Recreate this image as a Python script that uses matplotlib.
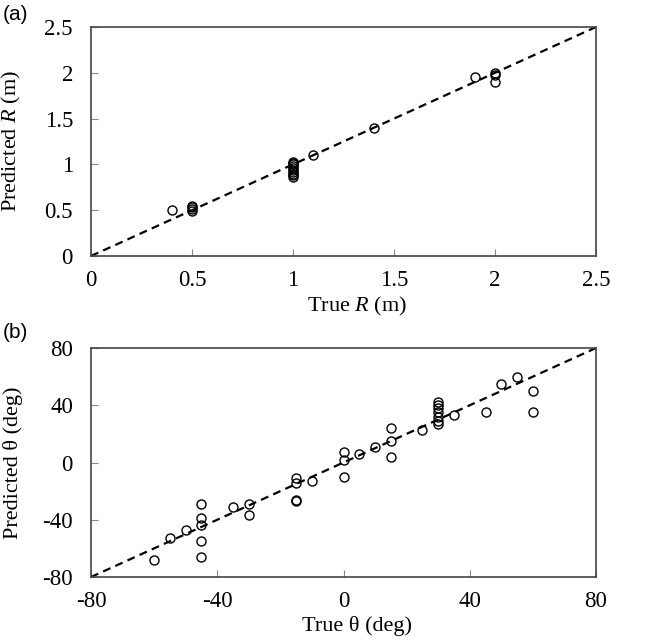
import matplotlib
matplotlib.use("Agg")
import matplotlib.pyplot as plt

# panel (a): range R
true_R = [0.4, 0.5, 0.5, 0.5, 0.5,
          1.0, 1.0, 1.0, 1.0, 1.0, 1.0, 1.0, 1.0, 1.0, 1.0,
          1.1, 1.4, 1.9, 2.0, 2.0, 2.0]
pred_R = [0.50, 0.55, 0.53, 0.51, 0.49,
          1.03, 1.01, 1.00, 0.98, 0.96, 0.94, 0.92, 0.90, 0.88, 0.86,
          1.10, 1.40, 1.95, 2.00, 1.98, 1.90]

# panel (b): angle theta
true_th = [-60, -55, -50, -45, -45, -45, -45, -45, -35, -30, -30,
           -15, -15, -15, -15, -10, 0, 0, 0, 5, 10, 15, 15, 15, 25,
           30, 30, 30, 30, 30, 30, 30, 35, 45, 50, 55, 60, 60]
pred_th = [-68, -53, -47, -29, -39, -44, -55, -66, -31, -29, -37,
           -11, -14, -26, -27, -13, 7, 2, -10, 6, 11, 24, 15, 4, 23,
           42, 40, 38, 35, 32, 29, 27, 33, 35, 55, 60, 50, 35]

R_ticks = [0, 0.5, 1, 1.5, 2, 2.5]
R_labels = ["0", "0.5", "1", "1.5", "2", "2.5"]
th_ticks = [-80, -40, 0, 40, 80]

plt.rcParams["font.family"] = "Liberation Serif"
plt.rcParams["mathtext.fontset"] = "custom"
plt.rcParams["mathtext.rm"] = "Liberation Serif"
plt.rcParams["mathtext.it"] = "Liberation Serif:italic"
plt.rcParams["axes.unicode_minus"] = False

fig = plt.figure(figsize=(6.48, 6.4), dpi=100)
axA = fig.add_axes([91/648, 1-256/640, 505/648, 229/640])
axB = fig.add_axes([91/648, 1-577/640, 505/648, 229/640])


def style(ax):
	for s in ax.spines.values():
		s.set_color("#444444")
		s.set_linewidth(1.2)
	ax.tick_params(direction="in", length=5, width=0.8, color="#888888", labelsize=16.5)
	ax.tick_params(axis="x", pad=10)
	ax.tick_params(axis="y", pad=13)


# (a)
axA.plot([0, 2.5], [0, 2.5], color="black", lw=1.6, dashes=(3.6, 2.4))
axA.plot(true_R, pred_R, "o", mfc="none", mec="black", ms=6.5, mew=1.0)
axA.set_xlim(0, 2.5)
axA.set_ylim(0, 2.5)
axA.set_xticks(R_ticks)
axA.set_xticklabels(R_labels)
axA.set_yticks(R_ticks)
axA.set_yticklabels(R_labels)
style(axA)
axA.set_xlabel("True $\\mathit{R}$ (m)", fontsize=16)
axA.set_ylabel("Predicted $\\mathit{R}$ (m)", fontsize=16)
axA.xaxis.set_label_coords(0.527, -0.172)
axA.yaxis.set_label_coords(-0.135, 0.5)

# (b)
axB.plot([-80, 80], [-80, 80], color="black", lw=1.6, dashes=(3.6, 2.4))
axB.plot(true_th, pred_th, "o", mfc="none", mec="black", ms=6.5, mew=1.0)
axB.set_xlim(-80, 80)
axB.set_ylim(-80, 80)
axB.set_xticks(th_ticks)
axB.set_yticks(th_ticks)
style(axB)
axB.set_xlabel("True θ (deg)", fontsize=16)
axB.set_ylabel("Predicted θ (deg)", fontsize=16)
axB.xaxis.set_label_coords(0.527, -0.172)
axB.yaxis.set_label_coords(-0.135, 0.5)

fig.text(3/648, 1-14/640, "(a)", fontsize=15, family="Liberation Sans", va="center", ha="left")
fig.text(3/648, 1-332/640, "(b)", fontsize=15, family="Liberation Sans", va="center", ha="left")

fig.savefig("out.png", dpi=100)
